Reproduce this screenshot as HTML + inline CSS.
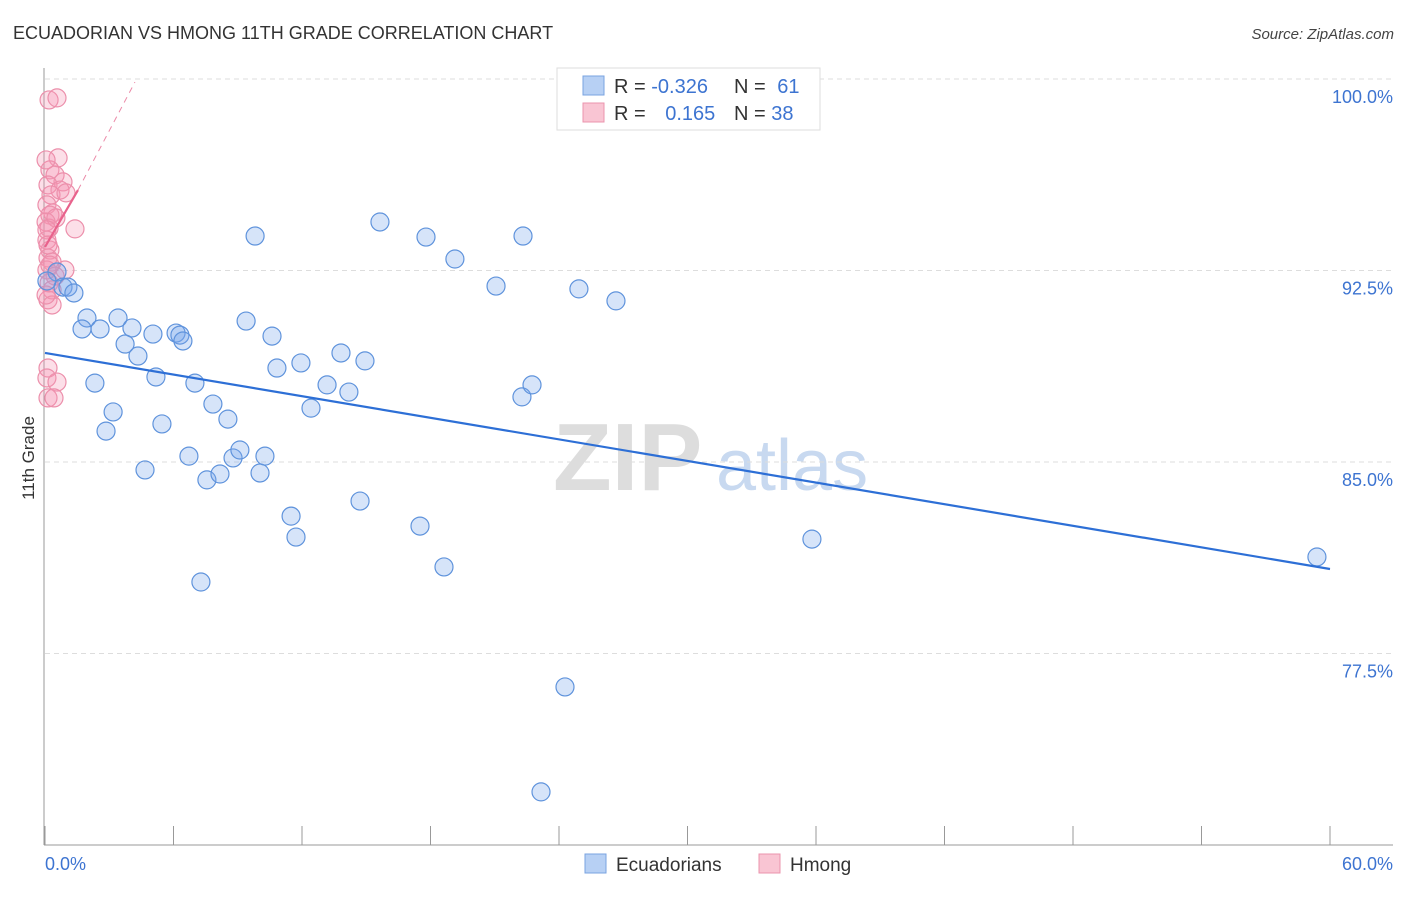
<!DOCTYPE html>
<html><head><meta charset="utf-8"><style>
body{margin:0;background:#fff;font-family:"Liberation Sans",sans-serif;}
svg text{font-family:"Liberation Sans",sans-serif;}
</style></head><body>
<svg id="chart" width="1406" height="892" viewBox="0 0 1406 892" xmlns="http://www.w3.org/2000/svg">
<text x="13" y="39" font-size="18" fill="#333">ECUADORIAN VS HMONG 11TH GRADE CORRELATION CHART</text>
<text x="1394" y="39" font-size="15" fill="#444" text-anchor="end" font-style="italic">Source: ZipAtlas.com</text>
<g>
<text x="553" y="490" font-size="96" fill="#ddd" font-family="Liberation Serif" font-weight="bold">ZIP</text>
<text x="716" y="490" font-size="72" fill="#c8d9f0">atlas</text>
</g>
<g id="grid"></g>
<g id="axes"></g>
<g id="marks"></g>
<text transform="translate(34,458) rotate(-90)" font-size="17" fill="#333" text-anchor="middle">11th Grade</text>
<g>
<rect x="557" y="68" width="263" height="62" fill="#fff" stroke="#ddd"/>
<rect x="583" y="76" width="21" height="19" fill="#b7d0f4" stroke="#7aa3e0"/>
<rect x="583" y="103" width="21" height="19" fill="#f9c5d3" stroke="#eb94ae"/>
<text x="614" y="93" font-size="20" fill="#333">R = <tspan fill="#3d74d1">-0.326</tspan></text>
<text x="734" y="93" font-size="20" fill="#333">N = <tspan fill="#3d74d1" dx="6">61</tspan></text>
<text x="614" y="120" font-size="20" fill="#333">R = <tspan fill="#3d74d1" dx="14">0.165</tspan></text>
<text x="734" y="120" font-size="20" fill="#333">N = <tspan fill="#3d74d1">38</tspan></text>
</g>
<g>
<rect x="585" y="854" width="21" height="19" fill="#b7d0f4" stroke="#7aa3e0"/>
<text x="616" y="871" font-size="19" fill="#333">Ecuadorians</text>
<rect x="759" y="854" width="21" height="19" fill="#f9c5d3" stroke="#eb94ae"/>
<text x="790" y="871" font-size="19" fill="#333">Hmong</text>
</g>
</svg>
<script>
const yTicks=[100,92.5,85,77.5];
const yTickLabels=["100.0%","92.5%","85.0%","77.5%"];
const xTicks=[0,6,12,18,24,30,36,42,48,54,60];
const blueX=[0.56,0.84,1.07,1.35,1.96,1.73,2.57,3.41,4.06,3.74,4.34,5.04,6.12,6.30,6.44,2.33,3.18,2.85,5.18,5.46,4.67,6.72,7.0,7.84,8.54,7.56,8.17,8.78,9.1,10.04,10.27,9.81,9.39,10.6,10.83,11.95,12.42,13.17,13.82,14.19,14.94,11.49,11.72,14.71,15.64,17.79,19.14,17.51,18.63,21.06,22.32,22.27,22.74,24.93,26.66,24.28,23.16,35.81,59.39,7.28,0.09];
const blueY=[92.44,91.85,91.85,91.62,90.64,90.21,90.21,90.64,90.25,89.62,89.15,90.01,90.05,89.97,89.74,88.09,86.96,86.21,88.33,86.49,84.69,85.23,88.09,87.27,86.68,84.30,84.53,85.16,85.47,84.57,85.23,93.85,90.52,89.93,88.68,88.88,87.11,88.02,89.27,87.74,88.96,82.88,82.06,83.47,94.4,93.81,92.95,82.49,80.89,91.89,93.85,87.55,88.02,91.78,91.31,76.19,72.08,81.98,81.28,80.30,92.09];
const pinkX=[0.19,0.56,0.61,0.23,0.47,0.84,0.14,0.70,0.28,0.09,0.37,0.23,0.05,0.19,0.51,1.40,0.09,0.23,0.14,0.33,0.93,0.09,0.47,0.19,0.33,0.14,0.33,0.14,0.09,0.56,0.14,0.42,0.98,0.05,0.09,0.14,0.23,0.05];
const pinkY=[99.18,99.26,96.91,96.44,96.24,95.97,95.85,95.65,95.46,95.07,94.75,94.67,94.40,94.16,94.56,94.13,93.69,93.30,92.99,92.83,92.52,92.52,92.28,92.01,91.74,91.35,91.15,88.68,88.29,88.13,87.51,87.51,95.54,96.83,94.09,93.50,92.71,91.54];
const blueTrend=[89.27,80.81];
const pinkTrend=[93.42,95.65,99.88];
const pinkTrendX=[0,1.54,4.2];
const NS="http://www.w3.org/2000/svg";
const sx=v=>45+v*1285/60;
const sy=v=>79+(100-v)*191.5/7.5;
function mk(p,t,a){const e=document.createElementNS(NS,t);for(const k in a)e.setAttribute(k,a[k]);p.appendChild(e);return e;}
const grid=document.getElementById('grid'),axes=document.getElementById('axes'),marks=document.getElementById('marks');
yTicks.forEach((v,i)=>{
 const l=mk(grid,'line',{x1:45,x2:1393,y1:sy(v),y2:sy(v),stroke:'#ddd','stroke-dasharray':'5,4'});
 
 
 const t=mk(axes,'text',{x:1393,y:sy(v)+24,'font-size':18,fill:'#3d74d1','text-anchor':'end'});
 t.textContent=yTickLabels[i];
 
 
});
const ya=mk(axes,'line',{x1:44,x2:44,y1:68,y2:845,stroke:'#999'});


const xa=mk(axes,'line',{x1:44,x2:1393,y1:845,y2:845,stroke:'#999'});


xTicks.forEach(v=>{
 const t=mk(axes,'line',{x1:sx(v),x2:sx(v),y1:826,y2:845,stroke:'#999'});
 
 
});
const xl0=mk(axes,'text',{x:45,y:870,'font-size':18,fill:'#3d74d1'});xl0.textContent='0.0%';


const xl1=mk(axes,'text',{x:1393,y:870,'font-size':18,fill:'#3d74d1','text-anchor':'end'});xl1.textContent='60.0%';


pinkX.forEach((x,i)=>{
 const c=mk(marks,'circle',{cx:sx(x),cy:sy(pinkY[i]),r:9,fill:'rgba(244,150,178,0.3)',stroke:'#ec8fab','stroke-width':1.2});
 
 
});
blueX.forEach((x,i)=>{
 const c=mk(marks,'circle',{cx:sx(x),cy:sy(blueY[i]),r:9,fill:'rgba(120,165,235,0.3)',stroke:'#5f93dc','stroke-width':1.2});
 
 
});
const bt=mk(marks,'line',{x1:sx(0),y1:sy(blueTrend[0]),x2:sx(60),y2:sy(blueTrend[1]),stroke:'#2d6fd6','stroke-width':2.2});


const pt=mk(marks,'line',{x1:sx(pinkTrendX[0]),y1:sy(pinkTrend[0]),x2:sx(pinkTrendX[1]),y2:sy(pinkTrend[1]),stroke:'#e8628c','stroke-width':2.2});


const pd=mk(marks,'line',{x1:sx(pinkTrendX[1]),y1:sy(pinkTrend[1]),x2:sx(pinkTrendX[2]),y2:sy(pinkTrend[2]),stroke:'#eb8aa8','stroke-width':1,'stroke-dasharray':'6,5'});


</script>
</body></html>
